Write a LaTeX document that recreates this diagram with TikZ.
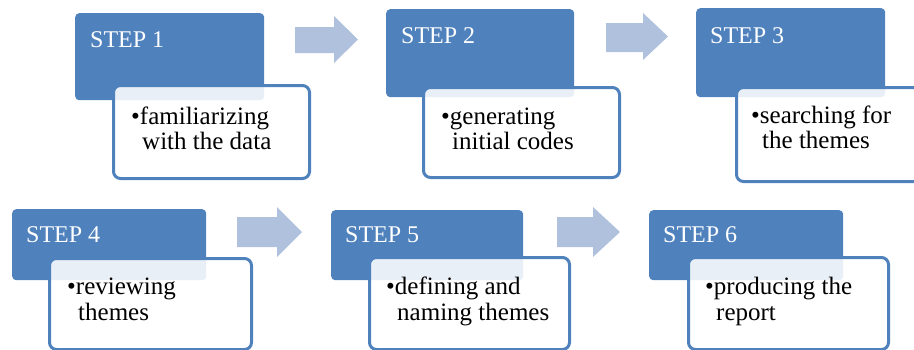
\documentclass[tikz,border=0pt]{standalone}
\usepackage{fontspec}
\setmainfont{Liberation Serif}
\definecolor{stepblue}{HTML}{4F81BD}
\definecolor{arrowblue}{HTML}{B0C1DE}
\tikzset{
  headbox/.style={rectangle, rounded corners=4pt, fill=stepblue, draw=none,
    inner sep=0pt, anchor=north west},
  notebox/.style={rectangle, rounded corners=7pt, fill=white, fill opacity=0.88,
    draw=stepblue, draw opacity=1, line width=3pt, inner sep=0pt, anchor=north west},
  headtext/.style={inner sep=0pt, anchor=base west, text=white,
    font=\fontsize{24}{24}\selectfont},
  notetext/.style={inner sep=0pt, anchor=base west, text=black,
    font=\fontsize{25}{25}\selectfont},
}
% block arrow: left x, top y, head start x, right x, bottom y, shaft top, shaft bottom
\newcommand{\blockarrow}[7]{%
  \fill[arrowblue] (#1,#6) -- (#3,#6) -- (#3,#2) -- (#4,{(#2+#5)/2}) -- (#3,#5)
    -- (#3,#7) -- (#1,#7) -- cycle;}
\begin{document}
\begin{tikzpicture}[x=1pt,y=-1pt]
  \useasboundingbox (0,0) rectangle (914,349);
  \clip (0,0) rectangle (914,349);

  % arrows between the steps
  \blockarrow{295}{16}{334}{358}{63}{27}{53}
  \blockarrow{606}{13}{643}{668}{60}{23}{52}
  \blockarrow{237}{207}{277}{302}{257}{217}{247}
  \blockarrow{557}{207}{593}{620}{257}{217}{247}

  % step 1
  \node[headbox, minimum width=189pt, minimum height=87pt] (h1) at (75,13) {};
  \node[headtext] (s1) at (90,47) {STEP 1};
  \node[notebox, minimum width=196pt, minimum height=93pt] (n1) at (112,84) {};
  \node[notetext] (t1a) at (131,124) {•familiarizing};
  \node[notetext] (t1b) at (142,149) {with the data};

  % step 2
  \node[headbox, minimum width=188pt, minimum height=88pt] (h2) at (386,9) {};
  \node[headtext] (s2) at (401,43) {STEP 2};
  \node[notebox, minimum width=196pt, minimum height=90pt] (n2) at (422,86) {};
  \node[notetext] (t2a) at (441,124) {•generating};
  \node[notetext] (t2b) at (452,149) {initial codes};

  % step 3
  \node[headbox, minimum width=189pt, minimum height=89pt] (h3) at (696,8) {};
  \node[headtext] (s3) at (710,43) {STEP 3};
  \node[notebox, minimum width=200pt, minimum height=94pt] (n3) at (735,86) {};
  \node[notetext] (t3a) at (751,123) {•searching for};
  \node[notetext] (t3b) at (762,148) {the themes};

  % step 4
  \node[headbox, minimum width=194pt, minimum height=71pt] (h4) at (12,209) {};
  \node[headtext] (s4) at (26,242) {STEP 4};
  \node[notebox, minimum width=202pt, minimum height=91pt] (n4) at (48,257) {};
  \node[notetext] (t4a) at (67,294) {•reviewing};
  \node[notetext] (t4b) at (78,320) {themes};

  % step 5
  \node[headbox, minimum width=192pt, minimum height=70pt] (h5) at (331,210) {};
  \node[headtext] (s5) at (345,242) {STEP 5};
  \node[notebox, minimum width=200pt, minimum height=92pt] (n5) at (368,256) {};
  \node[notetext] (t5a) at (386,294) {•defining and};
  \node[notetext] (t5b) at (397,320) {naming themes};

  % step 6
  \node[headbox, minimum width=194pt, minimum height=70pt] (h6) at (649,210) {};
  \node[headtext] (s6) at (663,242) {STEP 6};
  \node[notebox, minimum width=200pt, minimum height=92pt] (n6) at (687,256) {};
  \node[notetext] (t6a) at (705,294) {•producing the};
  \node[notetext] (t6b) at (716,320) {report};
\end{tikzpicture}
\end{document}
